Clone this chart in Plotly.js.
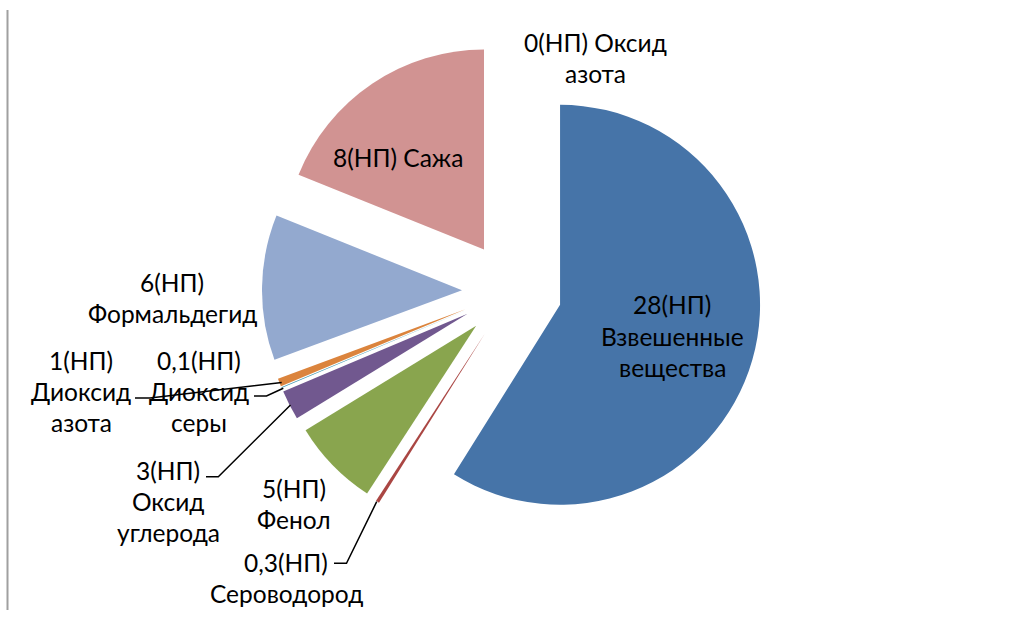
<!DOCTYPE html>
<html>
<head>
<meta charset="utf-8">
<script src="https://cdn.plot.ly/plotly-3.0.1.min.js"></script>
<style>
  html, body { margin: 0; padding: 0; background: #ffffff; }
  #chart { width: 1012px; height: 619px; }
</style>
</head>
<body>
<div id="chart"></div>
<script>
// ---- data (slice shares, in chart order, clockwise from 12 o'clock)
const categories = [
  "Взвешенные вещества", "Сероводород", "Фенол", "Оксид углерода",
  "Диоксид серы", "Диоксид азота", "Формальдегид", "Сажа", "Оксид азота"
];
const shares = [58.9, 0.28, 7.08, 2.39, 0.06, 0.64, 11.75, 18.9, 0];
const labelValues = ["28", "0,3", "5", "3", "0,1", "1", "6", "8", "0"];
const colors = ["#4674A8", "#AA4643", "#89A54E", "#71588F", "#4198AF",
                "#DB843D", "#93A9CF", "#D19392", "#A47D7C"];

// label text lines for each category
const labelLines = [
  [labelValues[0] + "(НП)", "Взвешенные", "вещества"],
  [labelValues[1] + "(НП)", "Сероводород"],
  [labelValues[2] + "(НП)", "Фенол"],
  [labelValues[3] + "(НП)", "Оксид", "углерода"],
  [labelValues[4] + "(НП)", "Диоксид", "серы"],
  [labelValues[5] + "(НП)", "Диоксид", "азота"],
  [labelValues[6] + "(НП)", "Формальдегид"],
  [labelValues[7] + "(НП) Сажа"],
  [labelValues[8] + "(НП) Оксид", "азота"]
];

// ---- layout helpers (pixel -> paper)
const W = 1012, H = 619;
const px = x => x / W;
const py = y => 1 - y / H;

// label block centres (pixels) and line spacing
const labelPos = [
  [672, 305], [286, 562], [294, 488], [168, 470],
  [199, 360], [81, 360], [172, 282], [398, 157], [595, 42]
];
const lineStep = 31;

const FONT = "Lato, 'Noto Sans', 'Open Sans', sans-serif";
const annotations = [];
labelLines.forEach((lines, i) => {
  lines.forEach((t, j) => {
    annotations.push({
      xref: "paper", yref: "paper",
      x: px(labelPos[i][0]), y: py(labelPos[i][1] + j * lineStep),
      xanchor: "center", yanchor: "middle",
      text: t, showarrow: false,
      font: {family: FONT, size: 24.5, color: "#000000"}
    });
  });
});

// leader lines (pixel paths)
const leaders = [
  [[376.7, 501.7], [346.5, 563.3], [334, 563.3]],
  [[290.5, 405], [218.3, 476.7], [206, 476.7]],
  [[283.3, 388.3], [266.5, 396], [254, 396]],
  [[281.7, 382.5], [150, 398], [135, 398]]
];
const shapes = leaders.map(pts => ({
  type: "path", xref: "paper", yref: "paper",
  path: pts.map((p, k) => (k ? "L" : "M") + px(p[0]) + "," + py(p[1])).join(" "),
  line: {color: "#000000", width: 1.5}
}));
// left frame line
shapes.push({
  type: "line", xref: "paper", yref: "paper",
  x0: px(7.5), x1: px(7.5), y0: py(10), y1: py(610),
  line: {color: "#A0A0A0", width: 2}
});

const trace = {
  type: "pie",
  labels: categories,
  values: shares,
  marker: {colors: colors, line: {width: 0}},
  sort: false,
  direction: "clockwise",
  rotation: 0,
  pull: categories.map(() => 0.25),
  textinfo: "none",
  hoverinfo: "none",
  showlegend: false,
  domain: {x: [px(512 - 250), px(512 + 250)], y: [py(291 + 250), py(291 - 250)]}
};

const layout = {
  width: W, height: H,
  margin: {l: 0, r: 0, t: 0, b: 0},
  paper_bgcolor: "#ffffff",
  plot_bgcolor: "#ffffff",
  showlegend: false,
  annotations: annotations,
  shapes: shapes
};

Plotly.newPlot("chart", [trace], layout, {staticPlot: true});
</script>
</body>
</html>
